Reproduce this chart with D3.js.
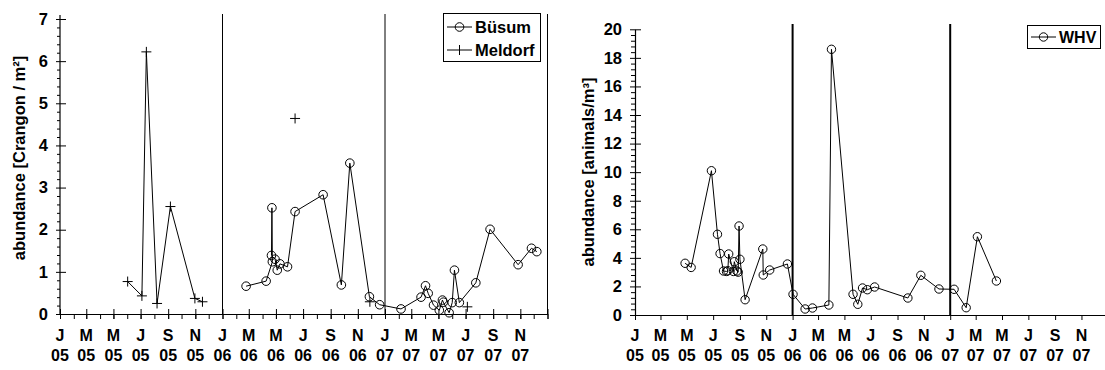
<!DOCTYPE html>
<html>
<head>
<meta charset="utf-8">
<script src="https://cdn.jsdelivr.net/npm/d3@7"></script>
<style>
  body { margin: 0; background: #fff; }
  svg text { font-family: "Liberation Sans", Arial, sans-serif; font-weight: bold; fill: #000; }
</style>
</head>
<body>
<svg id="chart" width="1105" height="370"></svg>
<script>
// ---- Crangon abundance, Büsum and Meldorf (per m²) ----
const busumDates = [
  "2006-02-23","2006-04-09","2006-04-23","2006-04-22","2006-04-21","2006-04-29","2006-05-04",
  "2006-05-10","2006-05-27","2006-06-13","2006-08-15","2006-09-25","2006-10-14","2006-11-27",
  "2006-12-20","2007-02-06","2007-03-23","2007-04-02","2007-04-08","2007-04-20","2007-05-03",
  "2007-05-10","2007-05-12","2007-05-25","2007-06-01","2007-06-06","2007-06-17","2007-07-24",
  "2007-08-25","2007-10-27","2007-11-26","2007-12-08"
];
const busumValues = [
  0.66, 0.78, 1.24, 2.52, 1.39, 1.30, 1.04,
  1.19, 1.12, 2.43, 2.83, 0.69, 3.58, 0.41,
  0.22, 0.12, 0.40, 0.67, 0.49, 0.21, 0.09,
  0.33, 0.28, 0.03, 0.27, 1.04, 0.27, 0.74,
  2.01, 1.17, 1.56, 1.48
];

const meldorfDates = [
  "2005-06-02","2005-07-04","2005-07-14","2005-08-07","2005-09-06","2005-10-31","2005-11-17",
  "2006-06-13","2006-11-28","2007-07-05"
];
const meldorfValues = [0.77, 0.43, 6.22, 0.25, 2.55, 0.37, 0.29, 4.64, 0.29, 0.17];
// consecutive samples sharing a run number are joined by a line
const meldorfRuns = [0, 0, 0, 0, 0, 0, 0, 1, 2, 3];

// ---- WHV abundance (animals per m³) ----
const whvDates = [
  "2005-04-27","2005-05-11","2005-06-27","2005-07-11","2005-07-17","2005-07-25","2005-08-01",
  "2005-08-04","2005-08-06","2005-08-17","2005-08-19","2005-08-25","2005-08-28","2005-08-30",
  "2005-09-01","2005-09-13","2005-10-24","2005-10-25","2005-11-09","2005-12-20","2006-01-02",
  "2006-01-30","2006-02-16","2006-03-26","2006-04-01","2006-05-21","2006-06-01","2006-06-12",
  "2006-06-23","2006-07-10","2006-09-25","2006-10-25","2006-12-06","2007-01-10","2007-02-07",
  "2007-03-05","2007-04-18"
];
const whvValues = [
  3.62, 3.33, 10.1, 5.65, 4.30, 3.08, 3.05,
  3.10, 4.27, 3.05, 3.73, 3.08, 3.00, 6.23,
  3.90, 1.07, 4.62, 2.80, 3.15, 3.57, 1.45,
  0.42, 0.49, 0.70, 18.6, 1.45, 0.75, 1.89,
  1.77, 1.96, 1.19, 2.78, 1.82, 1.80, 0.51,
  5.48, 2.38
];

// axis labels
const monthInitials = ["J","F","M","A","M","J","J","A","S","O","N","D"];
const leftYTicks = [0, 1, 2, 3, 4, 5, 6, 7];
const rightYTicks = [0, 2, 4, 6, 8, 10, 12, 14, 16, 18, 20];
const leftYLabel = "abundance [Crangon / m²]";
const rightYLabel = "abundance [animals/m³]";

const parse = d3.utcParse("%Y-%m-%d");
const svg = d3.select("#chart");
svg.append("rect").attr("width", 1105).attr("height", 370).attr("fill", "#fff");

const start = Date.UTC(2005, 0, 1), end = Date.UTC(2008, 0, 1);
const allMonths = d3.utcMonth.range(new Date(start), new Date(end + 1));
const majorMonths = allMonths.filter(d => d.getUTCMonth() % 2 === 0);
const labelMonths = majorMonths.filter(d => d.getUTCFullYear() < 2008);
const yearStarts = allMonths.filter(d => d.getUTCMonth() === 0 && d.getUTCFullYear() > 2005);

function circleMarks(g, pts, x, y, r) {
  g.selectAll(null).data(pts).join("circle")
    .attr("cx", d => x(d.date)).attr("cy", d => y(d.v)).attr("r", r)
    .attr("fill", "none").attr("stroke", "#000").attr("stroke-width", 1);
}
function plusMarks(g, pts, x, y, s) {
  g.selectAll(null).data(pts).join("path")
    .attr("d", d => `M${x(d.date) - s},${y(d.v)}H${x(d.date) + s}M${x(d.date)},${y(d.v) - s}V${y(d.v) + s}`)
    .attr("fill", "none").attr("stroke", "#000").attr("stroke-width", 1);
}

function xLabels(g, x, yPos) {
  const t = g.selectAll(null).data(labelMonths).join("text")
    .attr("text-anchor", "middle").attr("font-size", 16);
  t.append("tspan").attr("x", d => x(d)).attr("y", yPos).text(d => monthInitials[d.getUTCMonth()]);
  t.append("tspan").attr("x", d => x(d)).attr("y", yPos + 20)
    .text(d => String(d.getUTCFullYear() % 100).padStart(2, "0"));
}

// ================= left panel =================
{
  const x = d3.scaleUtc().domain([start, end]).range([60, 547.5]);
  const y = d3.scaleLinear().domain([0, 7]).range([314, 19]);
  const g = svg.append("g");

  // year separators
  g.selectAll(null).data(yearStarts).join("line")
    .attr("x1", d => x(d)).attr("x2", d => x(d)).attr("y1", 14).attr("y2", y(0))
    .attr("stroke", "#000").attr("stroke-width", 1);

  // x axis: monthly minor ticks, bimonthly major ticks crossing the axis
  g.append("g").attr("transform", `translate(0,${y(0)})`)
    .call(d3.axisBottom(x).tickValues(allMonths).tickFormat("").tickSizeInner(5).tickSizeOuter(0))
    .call(a => a.select(".domain").attr("stroke-width", 1.2));
  g.append("g").attr("transform", `translate(0,${y(0)})`)
    .call(d3.axisBottom(x).tickValues(majorMonths).tickFormat("").tickSizeInner(5).tickSizeOuter(0))
    .call(a => a.select(".domain").remove())
    .call(a => a.selectAll(".tick line").attr("y1", -5));
  xLabels(g, x, 341);

  // y axis
  const minorY = d3.range(0, 7.001, 0.2).filter(v => Math.abs(v - Math.round(v)) > 1e-6);
  g.append("g").attr("transform", "translate(60,0)")
    .call(d3.axisLeft(y).tickValues(minorY).tickFormat("").tickSizeInner(3).tickSizeOuter(0))
    .call(a => a.select(".domain").attr("d", `M0,${y(0)}V15`).attr("stroke-width", 1.2));
  g.append("g").attr("transform", "translate(60,0)")
    .call(d3.axisLeft(y).tickValues(leftYTicks).tickFormat(d3.format("d")).tickSizeInner(4).tickSizeOuter(0).tickPadding(8))
    .call(a => a.select(".domain").remove())
    .call(a => a.selectAll(".tick line").attr("x1", 6))
    .call(a => a.selectAll(".tick text").attr("font-size", 16.5).attr("font-family", null).attr("fill", null));

  g.append("text").attr("transform", "translate(25,158) rotate(-90)")
    .attr("text-anchor", "middle").attr("font-size", 16.5).text(leftYLabel);

  // Büsum series
  const bus = busumDates.map((d, i) => ({ date: parse(d), v: busumValues[i] }));
  g.append("path").datum(bus)
    .attr("d", d3.line().x(d => x(d.date)).y(d => y(d.v)))
    .attr("fill", "none").attr("stroke", "#000").attr("stroke-width", 1);
  circleMarks(g, bus, x, y, 4.3);

  // Meldorf series, drawn run by run
  const mel = meldorfDates.map((d, i) => ({ date: parse(d), v: meldorfValues[i], run: meldorfRuns[i] }));
  d3.groups(mel, d => d.run).forEach(([, pts]) => {
    if (pts.length > 1) g.append("path").datum(pts)
      .attr("d", d3.line().x(d => x(d.date)).y(d => y(d.v)))
      .attr("fill", "none").attr("stroke", "#000").attr("stroke-width", 1);
  });
  plusMarks(g, mel, x, y, 5);

  // legend
  const lg = g.append("g");
  lg.append("rect").attr("x", 443.5).attr("y", 13.5).attr("width", 97).attr("height", 48)
    .attr("fill", "#fff").attr("stroke", "#000").attr("stroke-width", 1);
  lg.append("line").attr("x1", 447).attr("x2", 472).attr("y1", 27).attr("y2", 27).attr("stroke", "#000");
  lg.append("circle").attr("cx", 459.5).attr("cy", 27).attr("r", 4.3).attr("fill", "none").attr("stroke", "#000");
  lg.append("text").attr("x", 475).attr("y", 33).attr("font-size", 16.5).text("Büsum");
  lg.append("path").attr("d", "M447,50H472M459.5,45V55").attr("stroke", "#000").attr("fill", "none");
  lg.append("text").attr("x", 475).attr("y", 56).attr("font-size", 16.5).text("Meldorf");
}

// ================= right panel =================
{
  const x = d3.scaleUtc().domain([start, end]).range([635, 1107.8]);
  const y = d3.scaleLinear().domain([0, 20]).range([315, 29.3]);
  const g = svg.append("g");

  g.selectAll(null).data(yearStarts.filter(d => d.getUTCFullYear() < 2008)).join("line")
    .attr("x1", d => x(d)).attr("x2", d => x(d)).attr("y1", 24).attr("y2", y(0))
    .attr("stroke", "#000").attr("stroke-width", 2);

  g.append("g").attr("transform", `translate(0,${y(0)})`)
    .call(d3.axisBottom(x).tickValues(majorMonths).tickFormat("").tickSizeInner(5).tickSizeOuter(0))
    .call(a => a.select(".domain").attr("stroke-width", 1.2));
  xLabels(g, x, 341);

  const minorY = d3.range(0, 20.001, 0.4).filter(v => Math.abs(v / 2 - Math.round(v / 2)) > 1e-6);
  g.append("g").attr("transform", "translate(635,0)")
    .call(d3.axisLeft(y).tickValues(minorY).tickFormat("").tickSizeInner(4).tickSizeOuter(0))
    .call(a => a.select(".domain").attr("stroke-width", 1.2));
  g.append("g").attr("transform", "translate(635,0)")
    .call(d3.axisLeft(y).tickValues(rightYTicks).tickFormat(d3.format("d")).tickSizeInner(5).tickSizeOuter(0).tickPadding(8))
    .call(a => a.select(".domain").remove())
    .call(a => a.selectAll(".tick line").attr("x1", 6))
    .call(a => a.selectAll(".tick text").attr("font-size", 16.5).attr("font-family", null).attr("fill", null));

  g.append("text").attr("transform", "translate(594,172) rotate(-90)")
    .attr("text-anchor", "middle").attr("font-size", 16.5).text(rightYLabel);

  const whv = whvDates.map((d, i) => ({ date: parse(d), v: whvValues[i] }));
  g.append("path").datum(whv)
    .attr("d", d3.line().x(d => x(d.date)).y(d => y(d.v)))
    .attr("fill", "none").attr("stroke", "#000").attr("stroke-width", 1);
  circleMarks(g, whv, x, y, 4.2);

  const lg = g.append("g");
  lg.append("rect").attr("x", 1027.5).attr("y", 25.5).attr("width", 73).attr("height", 23)
    .attr("fill", "#fff").attr("stroke", "#000").attr("stroke-width", 1);
  lg.append("line").attr("x1", 1031).attr("x2", 1056).attr("y1", 37).attr("y2", 37).attr("stroke", "#000");
  lg.append("circle").attr("cx", 1043.5).attr("cy", 37).attr("r", 4.2).attr("fill", "none").attr("stroke", "#000");
  lg.append("text").attr("x", 1059).attr("y", 43).attr("font-size", 16).text("WHV");
}
</script>
</body>
</html>
